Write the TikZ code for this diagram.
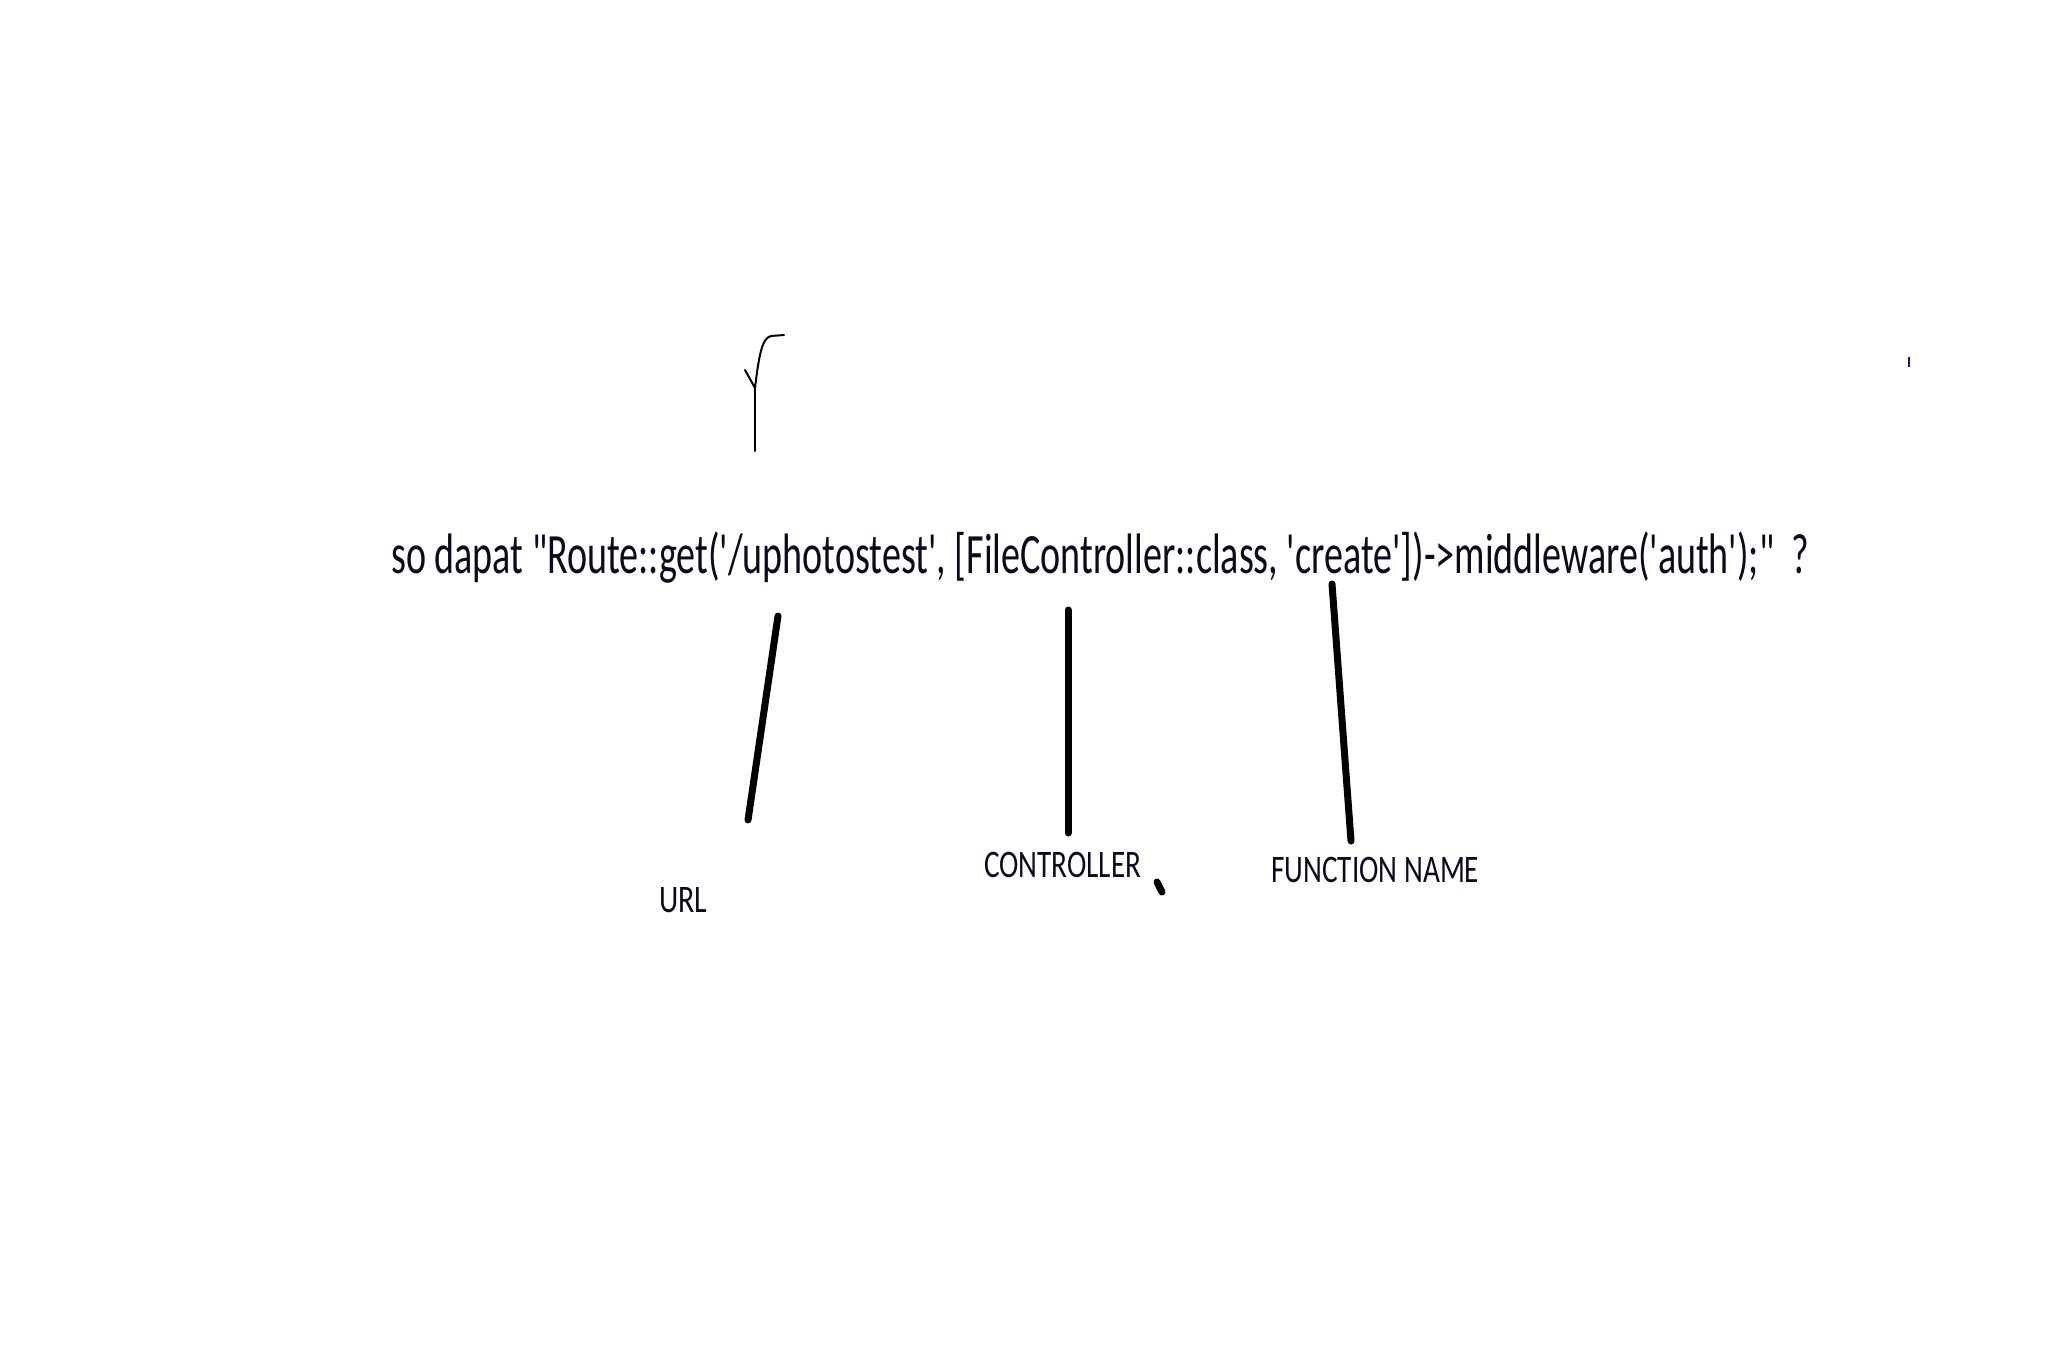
\documentclass[tikz,border=0pt]{standalone}
\usepackage{fontspec}
\newfontfamily\calib{Carlito}
\definecolor{ink}{RGB}{10,10,30}
\definecolor{navy}{RGB}{20,30,110}
\tikzset{
 lbl/.style={inner sep=0pt, anchor=base west, text=ink, font=\calib\fontsize{39}{44}\selectfont},
 codetext/.style={inner sep=0pt, anchor=base west, text=ink, font=\calib\fontsize{57}{64}\selectfont},
 pen/.style={line width=7pt, line cap=round},
 thinpen/.style={line width=2pt, line cap=round, line join=round}
}
\begin{document}
\begin{tikzpicture}[x=1pt,y=-1pt]
\useasboundingbox[fill=white] (0,0) rectangle (2048,1365);
\node[codetext] (code) at (391,573) {\resizebox{1418pt}{\height}{so dapat \textquotedbl Route::get(\textquotesingle/uphotostest\textquotesingle, [FileController::class, \textquotesingle create\textquotesingle])->middleware(\textquotesingle auth\textquotesingle);\textquotedbl\ \ ?}};
\node[lbl] (url) at (659,912) {\resizebox{48pt}{\height}{URL}};
\node[lbl] (ctrl) at (984,877) {\resizebox{157pt}{\height}{CONTROLLER}};
\node[lbl] (fn) at (1271,882) {\resizebox{208pt}{\height}{FUNCTION NAME}};
% pointer strokes
\coordinate (u1) at (778,616); \coordinate (u2) at (748,820);
\coordinate (c1) at (1068,610); \coordinate (c2) at (1068,833);
\coordinate (f1) at (1332,584); \coordinate (f2) at (1351,841);
\draw[pen] (u1) -- (u2);
\draw[pen] (c1) -- (c2);
\draw[pen] (f1) -- (f2);
% stray dot
\coordinate (d1) at (1157,882); \coordinate (d2) at (1162,892);
\draw[pen] (d1) -- (d2);
% hook mark above
\coordinate (h0) at (745,370); \coordinate (h1) at (755,388);
\coordinate (h2) at (771,336); \coordinate (h3) at (784,335);
\coordinate (h4) at (755,451);
\draw[thinpen] (h0) -- (h1) .. controls (759,355) and (762,338) .. (h2) -- (h3);
\draw[thinpen] (h1) -- (h4);
% tiny tick right
\coordinate (t1) at (1909,357); \coordinate (t2) at (1909,367);
\draw[navy, line width=2.5pt] (t1) -- (t2);
\end{tikzpicture}
\end{document}
